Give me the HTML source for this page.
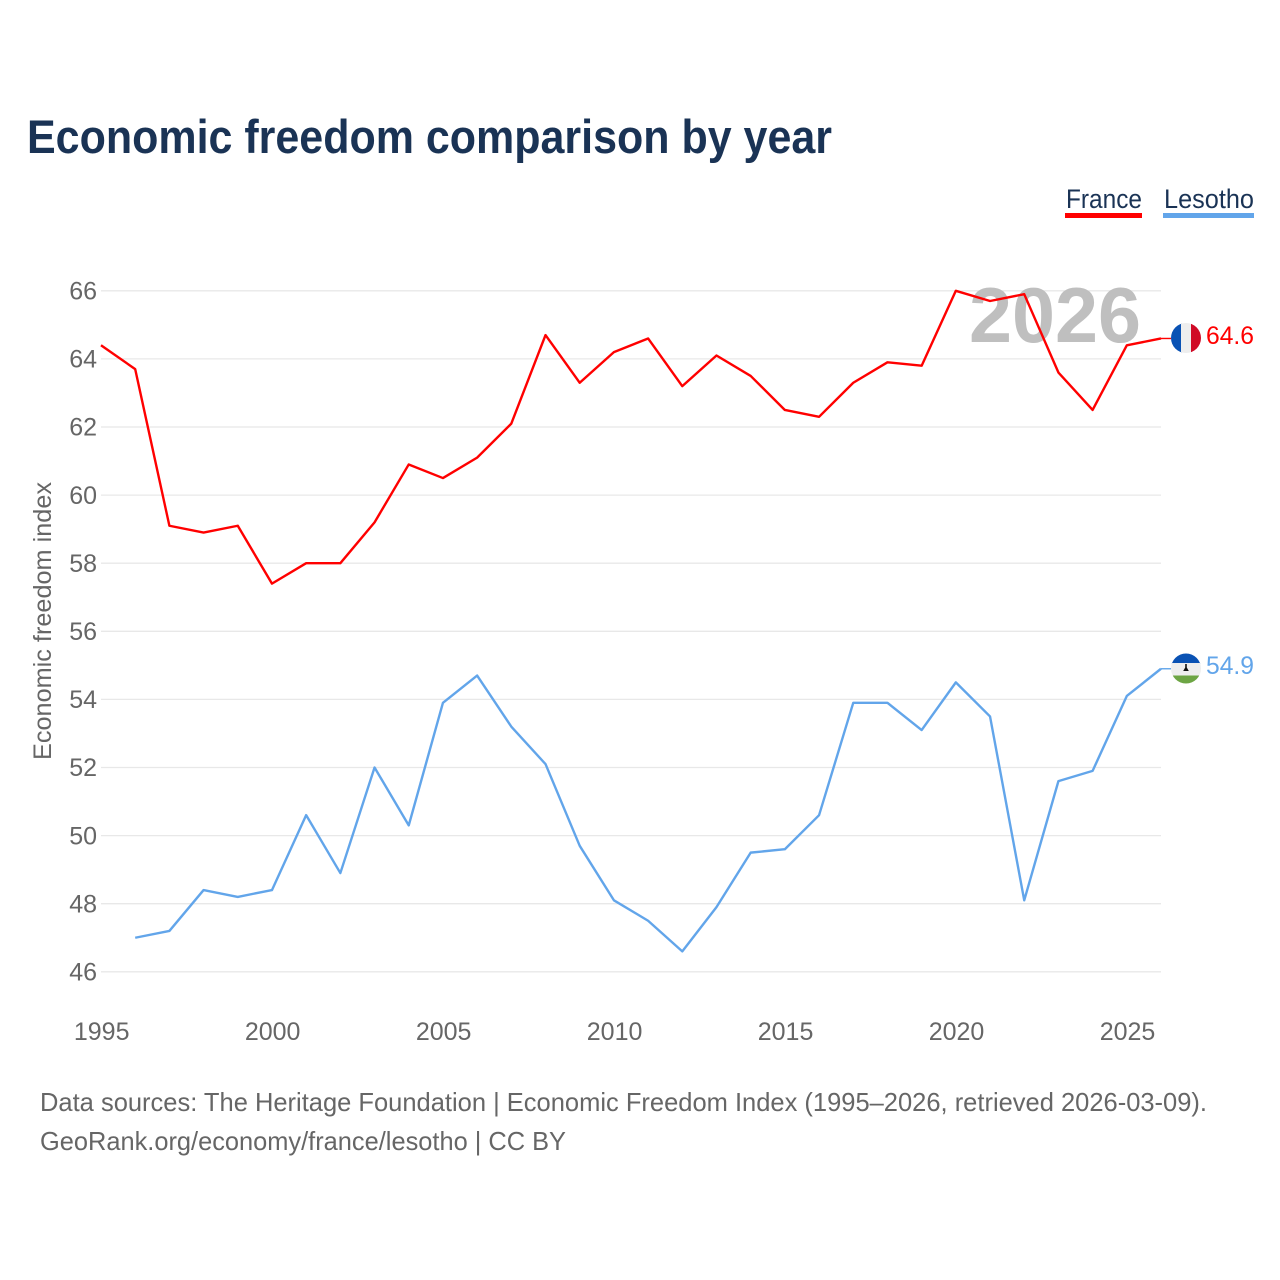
<!DOCTYPE html>
<html lang="en">
<head>
<meta charset="utf-8">
<title>Economic freedom comparison by year</title>
<style>
html,body{margin:0;padding:0;background:#fff;width:1280px;height:1280px;overflow:hidden}
svg{display:block;font-family:"Liberation Sans",sans-serif}
</style>
</head>
<body>
<svg id="chart" width="1280" height="1280" viewBox="0 0 1280 1280">
  <text x="27" y="153" font-size="47" font-weight="700" fill="#1a3355" textLength="805" lengthAdjust="spacingAndGlyphs">Economic freedom comparison by year</text>

  <g>
    <g>
      <text x="1066" y="208" font-size="27" fill="#1a3355" textLength="76" lengthAdjust="spacingAndGlyphs">France</text>
      <rect x="1065" y="213" width="77" height="5" fill="#ff0000"></rect>
    </g>
    <g>
      <text x="1164" y="208" font-size="27" fill="#1a3355" textLength="90" lengthAdjust="spacingAndGlyphs">Lesotho</text>
      <rect x="1163" y="213" width="91" height="5" fill="#62a5ea"></rect>
    </g>
  </g>

  <g id="grid"></g>
  <text x="969" y="342" font-size="78" font-weight="700" fill="#bfbfbf" textLength="172" lengthAdjust="spacingAndGlyphs">2026</text>
  <g id="yticks"></g>
  <g id="xticks"></g>
  <text transform="translate(51,621) rotate(-90)" text-anchor="middle" font-size="25" fill="#666666" textLength="278" lengthAdjust="spacingAndGlyphs">Economic freedom index</text>
  <g id="series"></g>

  <defs>
    <clipPath id="flag-clip-fr"><circle cx="1186" cy="338" r="15"></circle></clipPath>
    <clipPath id="flag-clip-ls"><circle cx="1186" cy="668.5" r="15"></circle></clipPath>
  </defs>
  <g clip-path="url(#flag-clip-fr)">
    <rect x="1171" y="323" width="11" height="31" fill="#0a52b4"></rect>
    <rect x="1181" y="323" width="11" height="31" fill="#eeeeee"></rect>
    <rect x="1191" y="323" width="11" height="31" fill="#d00a26"></rect>
  </g>
  <g clip-path="url(#flag-clip-ls)">
    <rect x="1171" y="653" width="31" height="11" fill="#0a52b4"></rect>
    <rect x="1171" y="663" width="31" height="12.5" fill="#eeeeee"></rect>
    <rect x="1171" y="675.5" width="31" height="10" fill="#6da544"></rect>
    <path d="M1185.2 664h1.6v3.5l2 3.5h-5.6l2-3.5z" fill="#111111"></path>
  </g>
  <text x="1206" y="344" font-size="25" fill="#ff0000" textLength="48" lengthAdjust="spacingAndGlyphs">64.6</text>
  <text x="1206" y="674" font-size="25" fill="#62a5ea" textLength="48" lengthAdjust="spacingAndGlyphs">54.9</text>

  <text x="40" y="1111" font-size="26" fill="#666666" textLength="1167" lengthAdjust="spacingAndGlyphs">Data sources: The Heritage Foundation | Economic Freedom Index (1995–2026, retrieved 2026-03-09).</text>
  <text x="40" y="1150" font-size="26" fill="#666666" textLength="526" lengthAdjust="spacingAndGlyphs">GeoRank.org/economy/france/lesotho | CC BY</text>
</svg>
<script>
const years = [1995,1996,1997,1998,1999,2000,2001,2002,2003,2004,2005,2006,2007,2008,2009,2010,2011,2012,2013,2014,2015,2016,2017,2018,2019,2020,2021,2022,2023,2024,2025,2026];
const franceValues = [64.4,63.7,59.1,58.9,59.1,57.4,58,58,59.2,60.9,60.5,61.1,62.1,64.7,63.3,64.2,64.6,63.2,64.1,63.5,62.5,62.3,63.3,63.9,63.8,66.0,65.7,65.9,63.6,62.5,64.4,64.6];
const lesothoValues = [null,47.0,47.2,48.4,48.2,48.4,50.6,48.9,52.0,50.3,53.9,54.7,53.2,52.1,49.7,48.1,47.5,46.6,47.9,49.5,49.6,50.6,53.9,53.9,53.1,54.5,53.5,48.1,51.6,51.9,54.1,54.9];
const yTickValues = [46,48,50,52,54,56,58,60,62,64,66];
const xTickValues = [1995,2000,2005,2010,2015,2020,2025];

const NS = 'http://www.w3.org/2000/svg';
const xScale = function (year) { return 101 + (year - 1995) * (1161 - 101) / 31; };
const yScale = function (value) { return 971.8 - (value - 46) * (971.8 - 290.8) / 20; };

const gridGroup = document.getElementById('grid');
const yTickGroup = document.getElementById('yticks');
const xTickGroup = document.getElementById('xticks');
const seriesGroup = document.getElementById('series');

yTickValues.forEach(function (value) {
  const line = document.createElementNS(NS, 'line');
  line.setAttribute('x1', xScale(1995));
  line.setAttribute('x2', xScale(2026));
  line.setAttribute('y1', yScale(value));
  line.setAttribute('y2', yScale(value));
  line.setAttribute('stroke', '#e8e8e8');
  line.setAttribute('stroke-width', '1.3');
  
  
  gridGroup.appendChild(line);

  const label = document.createElementNS(NS, 'text');
  label.setAttribute('x', 97);
  label.setAttribute('y', yScale(value) + 8.7);
  label.setAttribute('text-anchor', 'end');
  label.setAttribute('font-size', '25');
  label.setAttribute('fill', '#666666');
  label.textContent = value;
  
  
  yTickGroup.appendChild(label);
});

xTickValues.forEach(function (year) {
  const label = document.createElementNS(NS, 'text');
  label.setAttribute('x', xScale(year) + 0.7);
  label.setAttribute('y', 1040);
  label.setAttribute('text-anchor', 'middle');
  label.setAttribute('font-size', '25');
  label.setAttribute('fill', '#666666');
  label.textContent = year;
  
  
  xTickGroup.appendChild(label);
});

function drawSeries(values, color, name) {
  const parts = [];
  values.forEach(function (value, i) {
    if (value === null) { return; }
    parts.push((parts.length ? 'L' : 'M') + xScale(years[i]).toFixed(2) + ' ' + yScale(value).toFixed(2));
  });
  const last = values[values.length - 1];
  const path = document.createElementNS(NS, 'path');
  path.setAttribute('d', parts.join(' '));
  path.setAttribute('fill', 'none');
  path.setAttribute('stroke', color);
  path.setAttribute('stroke-width', '2.4');
  path.setAttribute('stroke-linejoin', 'round');
  
  
  seriesGroup.appendChild(path);

  const stub = document.createElementNS(NS, 'line');
  stub.setAttribute('x1', xScale(2026));
  stub.setAttribute('x2', xScale(2026) + 10);
  stub.setAttribute('y1', yScale(last));
  stub.setAttribute('y2', yScale(last));
  stub.setAttribute('stroke', color);
  stub.setAttribute('stroke-width', '1.4');
  
  
  seriesGroup.appendChild(stub);
}

drawSeries(franceValues, '#ff0000', 'france');
drawSeries(lesothoValues, '#62a5ea', 'lesotho');
</script>
</body>
</html>
